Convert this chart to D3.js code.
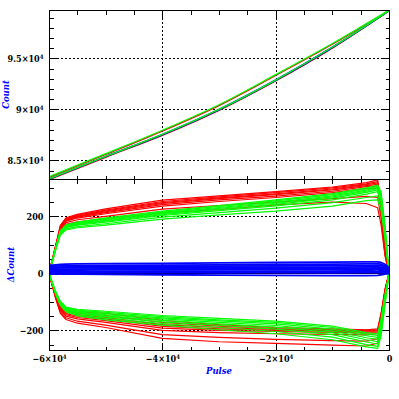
<!DOCTYPE html>
<html>
<head>
<meta charset="utf-8">
<script src="https://cdn.jsdelivr.net/npm/d3@7"></script>
<style>
  html, body { margin: 0; padding: 0; background: #fff; }
  svg { display: block; }
</style>
</head>
<body>
<div id="chart"></div>
<script>
// ── Top panel: Count vs Pulse (one up and one down sweep per colour) ──
const TOP_PULSE = [-60000, -50000, -40000, -30000, -20000, -10000, 0];
const RED_UP    = [83330, 85580, 87870, 90370, 93320, 96380, 99700];
const RED_DN    = [83100, 85300, 87450, 89900, 92780, 96000, 99650];
const BLUE_UP   = [83200, 85400, 87560, 90010, 92890, 96110, 99690];
const BLUE_DN   = [83150, 85350, 87500, 89950, 92830, 96050, 99660];
const GREEN_UP  = [83400, 85650, 87950, 90450, 93400, 96450, 99720];
const GREEN_DN  = [83180, 85380, 87540, 89990, 92870, 96090, 99680];

// ── Bottom panel: ΔCount vs Pulse ──
const PULSE = [-60000, -58800, -58000, -57000, -55000, -50000, -40000, -30000,
               -20000, -10000, -4000, -2000, -1400, -700, 0];

const RED_POS = [
  [0, 100, 168, 195, 207, 226, 257, 272, 287, 303, 318, 328, 240, 85, 0],
  [0,  98, 165, 192, 204, 222, 252, 268, 283, 300, 314, 322, 235, 82, 0],
  [0,  96, 162, 190, 201, 219, 248, 265, 279, 296, 311, 317, 228, 78, 0],
  [0,  95, 160, 188, 199, 216, 245, 262, 276, 293, 308, 312, 222, 75, 0],
  [0,  94, 158, 186, 197, 213, 241, 258, 271, 288, 304, 306, 215, 72, 0],
  [0,  92, 155, 183, 194, 209, 236, 252, 266, 283, 298, 298, 208, 70, 0],
  [0,  90, 150, 178, 188, 200, 225, 238, 250, 262, 270, 266, 195, 66, 0],
  [0,  88, 145, 172, 181, 192, 212, 224, 240, 250, 245, 230, 170, 60, 0],
];
const RED_NEG = [
  [0, -75, -110, -128, -135, -140, -165, -180, -190, -195, -198, -195, -140, -55, 0],
  [0, -78, -115, -133, -140, -148, -172, -185, -194, -198, -200, -198, -145, -58, 0],
  [0, -80, -118, -137, -145, -155, -180, -190, -197, -200, -203, -201, -150, -60, 0],
  [0, -82, -122, -141, -150, -160, -186, -195, -200, -203, -206, -204, -155, -62, 0],
  [0, -84, -126, -145, -155, -166, -192, -200, -204, -207, -210, -208, -160, -64, 0],
  [0, -86, -130, -150, -160, -172, -200, -208, -212, -214, -216, -212, -165, -66, 0],
  [0, -88, -135, -156, -168, -182, -215, -225, -232, -236, -238, -230, -175, -70, 0],
  [0, -90, -140, -162, -175, -190, -228, -240, -246, -252, -255, -245, -185, -75, 0],
];
const GREEN_POS = [
  [0, 92, 150, 170, 180, 195, 218, 238, 258, 280, 300, 310, 285, 165, 0],
  [0, 90, 148, 168, 178, 192, 215, 235, 254, 276, 296, 306, 280, 160, 0],
  [0, 89, 146, 166, 176, 189, 212, 231, 250, 272, 292, 302, 274, 155, 0],
  [0, 88, 144, 164, 174, 186, 209, 228, 246, 268, 288, 298, 268, 150, 0],
  [0, 87, 142, 162, 172, 183, 206, 224, 242, 264, 284, 293, 260, 145, 0],
  [0, 86, 140, 160, 169, 180, 203, 220, 237, 258, 278, 287, 252, 140, 0],
  [0, 85, 137, 156, 164, 174, 197, 213, 229, 248, 266, 272, 238, 130, 0],
  [0, 84, 134, 152, 160, 169, 190, 205, 218, 236, 255, 258, 222, 120, 0],
];
const GREEN_NEG = [
  [0, -65,  -98, -118, -126, -133, -148, -158, -168, -185, -208, -212, -160, -75, 0],
  [0, -67, -100, -120, -129, -137, -152, -163, -172, -190, -213, -218, -168, -80, 0],
  [0, -69, -102, -122, -132, -141, -156, -167, -177, -196, -219, -225, -176, -85, 0],
  [0, -70, -104, -124, -135, -145, -160, -172, -183, -202, -226, -232, -185, -90, 0],
  [0, -71, -106, -126, -138, -149, -165, -177, -189, -208, -233, -240, -194, -95, 0],
  [0, -72, -108, -129, -141, -153, -170, -183, -196, -215, -241, -248, -203, -100, 0],
  [0, -73, -110, -132, -145, -158, -176, -190, -204, -224, -250, -256, -212, -105, 0],
  [0, -74, -112, -135, -149, -163, -182, -198, -212, -233, -258, -263, -220, -110, 0],
];
const BLUE_D = [
  [ 2,  3,  3,  2,  2,  3,  3,  2,  3,  2,  3,  3,  2,  3,  2],
  [ 6,  7,  6,  7,  6,  7,  8,  7,  8,  8,  9,  8,  9,  8,  6],
  [10, 11, 10, 11, 11, 12, 12, 12, 13, 13, 14, 14, 13, 12,  8],
  [14, 14, 15, 15, 15, 16, 16, 17, 17, 18, 18, 19, 18, 16, 10],
  [18, 18, 19, 19, 19, 20, 21, 21, 22, 22, 23, 23, 22, 19, 12],
  [21, 22, 22, 23, 23, 24, 25, 25, 26, 27, 27, 28, 27, 23, 14],
  [25, 25, 26, 26, 27, 28, 29, 30, 31, 32, 33, 33, 32, 26, 16],
  [28, 30, 31, 32, 33, 34, 35, 37, 38, 39, 40, 40, 38, 32, 20],
  [-3, -2, -3, -3, -3, -4, -5, -6, -7, -8, -8, -7, -5, -3, -1],
];

const X_MAJOR = [-60000, -40000, -20000, 0];
const TOP_Y_MAJOR = [85000, 90000, 95000];
const BOT_Y_MAJOR = [-200, 0, 200];

const C = { red: '#ff0000', green: '#00ff00', blue: '#0000ff', ink: '#000' };
const FONT = "'DejaVu Serif Condensed', 'Liberation Serif', serif";
const LABEL_FONT = "'DejaVu Serif', serif";

const W = 399, H = 399;
const L = 49, R = 389, T = 10, M = 179, B = 350;

const svg = d3.select('#chart').append('svg')
  .attr('width', W).attr('height', H)
  .attr('viewBox', `0 0 ${W} ${H}`);

svg.append('rect').attr('width', W).attr('height', H).attr('fill', '#fff');

const x = d3.scaleLinear().domain([-60000, 0]).range([L, R]);
const yTop = d3.scaleLinear().domain([83170, 99740]).range([M, T]);
const yBot = d3.scaleLinear().domain([-269, 331]).range([B, M]);

// "−6×10⁴" style label, written into a text node
function sciLabel(sel) {
  sel.each(function (d) {
    const t = d3.select(this).text(null);
    if (d === 0) { t.text('0'); return; }
    const e = Math.floor(Math.log10(Math.abs(d)));
    let m = d / Math.pow(10, e);
    m = Math.round(m * 10) / 10;
    const ms = String(m).replace('-', '−');
    t.append('tspan').text(ms + '×10');
    t.append('tspan').attr('dy', '-0.45em').attr('font-size', '6px').text(String(e));
  });
}

function plainLabel(sel) {
  sel.each(function (d) {
    d3.select(this).text(String(d).replace('-', '−'));
  });
}

function styleAxis(s) {
  s.select('.domain').remove();
  s.selectAll('line').attr('stroke', C.ink).attr('shape-rendering', 'crispEdges');
  s.selectAll('text').attr('font-family', FONT).attr('font-size', 9)
    .attr('fill', C.ink).attr('font-weight', 'bold');
}

function panel(y, y0px, y1px, yMajor, yMinorStep, labelY, axisLabel, labelX, labelCy) {
  const g = svg.append('g');

  // grid
  g.selectAll('.vg').data([-40000, -20000]).join('line')
    .attr('x1', d => x(d) + 0.5).attr('x2', d => x(d) + 0.5)
    .attr('y1', y0px).attr('y2', y1px)
    .attr('stroke', C.ink).attr('stroke-width', 1)
    .attr('stroke-dasharray', '2,2').attr('shape-rendering', 'crispEdges');
  g.selectAll('.hg').data(yMajor).join('line')
    .attr('x1', L).attr('x2', R)
    .attr('y1', d => Math.round(y(d)) + 0.5).attr('y2', d => Math.round(y(d)) + 0.5)
    .attr('stroke', C.ink).attr('stroke-width', 1)
    .attr('stroke-dasharray', '2,2').attr('shape-rendering', 'crispEdges');

  const [d0, d1] = y.domain();
  const yMinor = d3.range(Math.ceil(d0 / yMinorStep) * yMinorStep, d1, yMinorStep)
    .filter(v => !yMajor.includes(v));
  const xMinor = d3.range(-55000, 0, 5000).filter(v => !X_MAJOR.includes(v));

  const axes = svg.append('g');

  // left (labels sit 6px left of the frame)
  axes.append('g').attr('transform', `translate(${L + 0.5},0)`)
    .call(d3.axisLeft(y).tickValues(yMajor).tickSize(-8).tickPadding(6).tickFormat(d => d))
    .call(styleAxis).call(s => s.selectAll('text').call(labelY));
  axes.append('g').attr('transform', `translate(${L + 0.5},0)`)
    .call(d3.axisLeft(y).tickValues(yMinor).tickSize(-4).tickFormat(''))
    .call(styleAxis);
  // right
  axes.append('g').attr('transform', `translate(${R + 0.5},0)`)
    .call(d3.axisRight(y).tickValues(yMajor).tickSize(-8).tickFormat(''))
    .call(styleAxis);
  axes.append('g').attr('transform', `translate(${R + 0.5},0)`)
    .call(d3.axisRight(y).tickValues(yMinor).tickSize(-4).tickFormat(''))
    .call(styleAxis);
  // top edge
  axes.append('g').attr('transform', `translate(0,${y0px + 0.5})`)
    .call(d3.axisTop(x).tickValues(X_MAJOR).tickSize(-8).tickFormat(''))
    .call(styleAxis);
  axes.append('g').attr('transform', `translate(0,${y0px + 0.5})`)
    .call(d3.axisTop(x).tickValues(xMinor).tickSize(-4).tickFormat(''))
    .call(styleAxis);
  // bottom edge
  axes.append('g').attr('transform', `translate(0,${y1px + 0.5})`)
    .call(d3.axisBottom(x).tickValues(xMinor).tickSize(-4).tickFormat(''))
    .call(styleAxis);
  axes.append('g').attr('transform', `translate(0,${y1px + 0.5})`)
    .call(d3.axisBottom(x).tickValues(X_MAJOR).tickSize(-8).tickFormat(''))
    .call(styleAxis);

  // y axis title
  svg.append('text')
    .attr('transform', `translate(${labelX},${labelCy}) rotate(-90)`)
    .attr('text-anchor', 'middle')
    .attr('font-family', LABEL_FONT).attr('font-size', 8.5)
    .attr('font-style', 'italic').attr('font-weight', 'bold')
    .attr('fill', C.blue)
    .text(axisLabel);
}

// ── Top panel ──
panel(yTop, T, M, TOP_Y_MAJOR, 1000, sciLabel, 'Count', 9, (T + M) / 2);
const topLine = d3.line().x((d, i) => x(TOP_PULSE[i])).y(d => yTop(d)).curve(d3.curveMonotoneX);
svg.append('clipPath').attr('id', 'clip-top')
  .append('rect').attr('x', L).attr('y', T).attr('width', R - L + 1).attr('height', M - T);
const topLines = svg.append('g').attr('clip-path', 'url(#clip-top)');
[[RED_UP, C.red], [RED_DN, C.red], [BLUE_UP, C.blue], [BLUE_DN, C.blue],
 [GREEN_DN, C.green], [GREEN_UP, C.green]].forEach(([s, c]) => {
  topLines.append('path').attr('d', topLine(s))
    .attr('fill', 'none').attr('stroke', c).attr('stroke-width', 1.3);
});

// ── Bottom panel ──
panel(yBot, M, B, BOT_Y_MAJOR, 50, plainLabel, 'ΔCount', 14, (M + B) / 2);
svg.append('line')
  .attr('x1', L).attr('x2', R)
  .attr('y1', Math.round(yBot(0)) + 0.5).attr('y2', Math.round(yBot(0)) + 0.5)
  .attr('stroke', C.ink).attr('stroke-width', 1).attr('shape-rendering', 'crispEdges');

svg.append('clipPath').attr('id', 'clip-bot')
  .append('rect').attr('x', L).attr('y', M).attr('width', R - L + 1).attr('height', B - M);
const botLines = svg.append('g').attr('clip-path', 'url(#clip-bot)');
const botLine = d3.line().x((d, i) => x(PULSE[i])).y(d => yBot(d));

const drawSet = (sets, color, w) => {
  sets.forEach(s => {
    botLines.append('path').attr('d', botLine(s))
      .attr('fill', 'none').attr('stroke', color).attr('stroke-width', w)
      .attr('stroke-linejoin', 'round');
  });
};
drawSet(RED_POS, C.red, 1.2);
drawSet(RED_NEG, C.red, 1.2);
drawSet(GREEN_POS, C.green, 1.2);
drawSet(GREEN_NEG, C.green, 1.2);
drawSet(BLUE_D, C.blue, 1.8);

// x tick labels under the bottom panel
svg.append('g').attr('transform', `translate(0,${B + 0.5})`)
  .call(d3.axisBottom(x).tickValues(X_MAJOR).tickSize(0).tickPadding(5).tickFormat(d => d))
  .call(styleAxis)
  .call(s => s.selectAll('text').call(sciLabel));

// frames
[[T, M], [M, B]].forEach(([a, b]) => {
  svg.append('rect')
    .attr('x', L + 0.5).attr('y', a + 0.5).attr('width', R - L).attr('height', b - a)
    .attr('fill', 'none').attr('stroke', C.ink).attr('stroke-width', 1.2)
    .attr('shape-rendering', 'crispEdges');
});

svg.append('text')
  .attr('x', (L + R) / 2).attr('y', 374)
  .attr('text-anchor', 'middle')
  .attr('font-family', LABEL_FONT).attr('font-size', 8.5)
  .attr('font-style', 'italic').attr('font-weight', 'bold')
  .attr('fill', C.blue)
  .text('Pulse');
</script>
</body>
</html>
